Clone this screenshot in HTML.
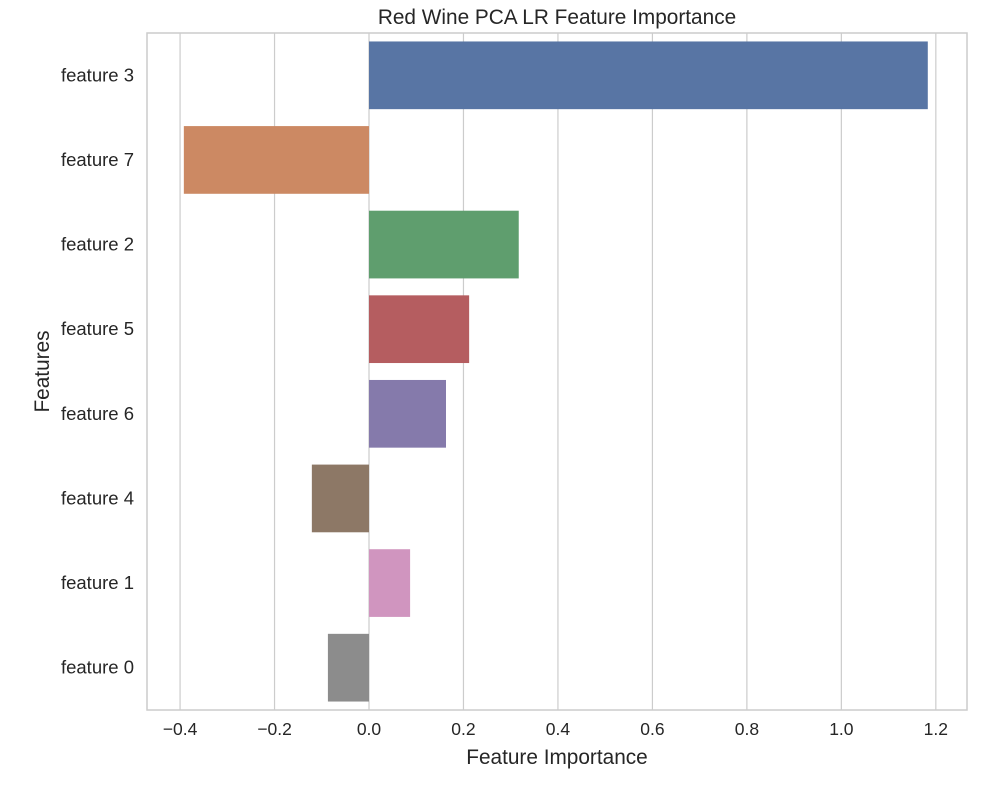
<!DOCTYPE html>
<html><head><meta charset="utf-8"><style>
body{margin:0;background:#fff;font-family:"Liberation Sans",sans-serif;}
</style></head><body>
<svg id="chart" width="1000" height="800" xmlns="http://www.w3.org/2000/svg" font-family="Liberation Sans, sans-serif"></svg>
<script>
const categories = ["feature 3","feature 7","feature 2","feature 5","feature 6","feature 4","feature 1","feature 0"];
const values = [1.183,-0.392,0.317,0.212,0.163,-0.121,0.087,-0.087];
const colors = ["#5875a4","#cc8963","#5f9e6e","#b55d60","#857aab","#8d7866","#d095bf","#8c8c8c"];
const xTicks = [-0.4,-0.2,0.0,0.2,0.4,0.6,0.8,1.0,1.2];
const xTickLabels = ["\u22120.4","\u22120.2","0.0","0.2","0.4","0.6","0.8","1.0","1.2"];

const L=147,R=967,T=33,B=710;
const xMin=-0.47,xMax=1.266;
const svg=document.getElementById('chart');
const NS="http://www.w3.org/2000/svg";
function x(v){return L+(v-xMin)/(xMax-xMin)*(R-L);}
const band=(B-T)/categories.length;
function y(i){return T+band*(i+0.5);}
function mk(tag,attrs,parent){const e=document.createElementNS(NS,tag);for(const k in attrs)e.setAttribute(k,attrs[k]);(parent||svg).appendChild(e);return e;}

xTicks.forEach((t,i)=>{
  const g=mk('line',{x1:x(t),x2:x(t),y1:T,y2:B,stroke:'#cccccc','stroke-width':1.2});
  
  
  const tx=mk('text',{x:x(t),y:B+25,'text-anchor':'middle','font-size':17.5,fill:'#262626'});
  tx.textContent=xTickLabels[i];
  
  
});
categories.forEach((c,i)=>{
  const v=values[i];
  const h=band*0.8;
  const r=mk('rect',{x:Math.min(x(0),x(v)),y:y(i)-h/2,width:Math.abs(x(v)-x(0)),height:h,fill:colors[i]});
  
  
  const tx=mk('text',{x:L-13,y:y(i)+6,'text-anchor':'end','font-size':18.5,fill:'#262626'});
  tx.textContent=c;
  
  
});
const fr=mk('rect',{x:L,y:T,width:R-L,height:B-T,fill:'none',stroke:'#cccccc','stroke-width':1.5});


const ti=mk('text',{x:(L+R)/2,y:24,'text-anchor':'middle','font-size':20.8,fill:'#262626'});
ti.textContent="Red Wine PCA LR Feature Importance";


const xl=mk('text',{x:(L+R)/2,y:764,'text-anchor':'middle','font-size':20.8,fill:'#262626'});
xl.textContent="Feature Importance";


const yl=mk('text',{x:0,y:0,'text-anchor':'middle','font-size':20.8,fill:'#262626',transform:'translate(49,'+((T+B)/2)+') rotate(-90)'});
yl.textContent="Features";


</script>
</body></html>
